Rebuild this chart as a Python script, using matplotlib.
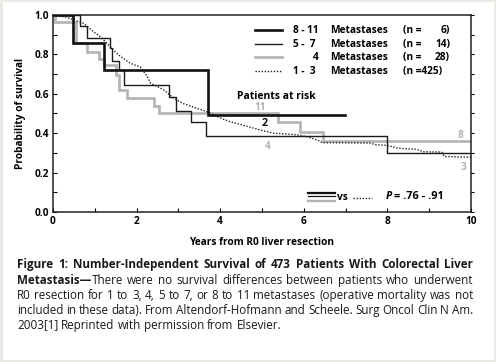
import matplotlib
matplotlib.use("Agg")
import numpy as np
import matplotlib.pyplot as plt
from matplotlib.figure import Figure
from matplotlib.backends.backend_agg import FigureCanvasAgg
from matplotlib.ticker import MultipleLocator, FixedLocator

# ---------------- data ----------------
heavy_t = [0, 0.47, 1.22, 3.72, 6.98]
heavy_s = [1.0, 0.86, 0.72, 0.49, 0.49]

thin_t = [0, 0.65, 0.81, 1.37, 1.41, 1.58, 1.69, 2.78, 2.94, 3.30, 3.67, 7.98, 10]
thin_s = [1.0, 0.946, 0.882, 0.834, 0.766, 0.72, 0.645, 0.585, 0.515, 0.455, 0.385, 0.30, 0.30]

gray_t = [0, 0.04, 0.55, 0.82, 1.11, 1.22, 1.51, 1.57, 1.77, 2.42, 2.53, 5.38, 5.92, 6.45, 10]
gray_s = [1.0, 0.964, 0.857, 0.81, 0.775, 0.745, 0.695, 0.62, 0.577, 0.537, 0.50, 0.455, 0.408, 0.36, 0.36]

dot_t = [0, 0.3, 0.5, 0.73, 0.97, 1.13, 1.29, 1.45, 1.57, 1.85, 2.09, 2.25, 2.33, 2.65,
         2.89, 3.12, 3.45, 3.69, 3.93, 4.24, 4.56, 4.96, 5.28, 5.84, 6.08, 6.32, 6.45,
         7.6, 7.7, 8.0, 8.25, 8.7, 8.85, 9.3, 9.36, 10]
dot_s = [1.0, 0.99, 0.975, 0.958, 0.915, 0.89, 0.856, 0.822, 0.797, 0.755, 0.735, 0.69,
         0.655, 0.62, 0.577, 0.55, 0.526, 0.509, 0.484, 0.458, 0.44, 0.416, 0.40, 0.392,
         0.382, 0.365, 0.352, 0.350, 0.342, 0.338, 0.324, 0.318, 0.306, 0.304, 0.282, 0.278]

legend_groups = ["8 - 11", "5 -  7", "4", "1 -  3"]
legend_n = ["6)", "14)", "28)", "425)"]
xticks = [0, 2, 4, 6, 8, 10]
yticks = [0.0, 0.2, 0.4, 0.6, 0.8, 1.0]

caption_lines = [
    [[("Figure", "bold")], [("1:", "bold")], [("Number-Independent", "bold")], [("Survival", "bold")],
     [("of", "bold")], [("473", "bold")], [("Patients", "bold")], [("With", "bold")],
     [("Colorectal", "bold")], [("Liver", "bold")]],
    [[("Metastasis\u2014", "bold"), ("There", "normal")]] +
    [[(w, "normal")] for w in "were no survival differences between patients who underwent".split()],
    [[(w, "normal")] for w in "R0 resection for 1 to 3, 4, 5 to 7, or 8 to 11 metastases (operative mortality was not".split()],
    [[(w, "normal")] for w in "included in these data). From Altendorf-Hofmann and Scheele. Surg Oncol Clin N Am.".split()],
    [[(w, "normal")] for w in "2003[1] Reprinted with permission from Elsevier.".split()],
]

# ---------------- figure ----------------
W, H = 496, 362
DPI = 100
FONT = "Open Sans"
FAM = [FONT, "DejaVu Sans"]
plt.rcParams["font.family"] = FAM
fig = plt.figure(figsize=(W / DPI, H / DPI), dpi=DPI)
fig.patch.set_facecolor("#ebe9e4")

# white panel
panel = plt.Rectangle((3 / W, 1 - 360 / H), 491 / W, 358 / H, transform=fig.transFigure,
                      facecolor="white", edgecolor="none", zorder=-10)
fig.patches.append(panel)

x0, x1, ytop, ybot = 53, 471, 15, 212
ax = fig.add_axes([x0 / W, 1 - ybot / H, (x1 - x0) / W, (ybot - ytop) / H])
ax.set_facecolor("none")
ax.set_xlim(0, 10)
ax.set_ylim(0, 1.0)

GRAY = "#b3b3b3"
ax.step(gray_t, gray_s, where="post", color=GRAY, lw=1.9, zorder=2, solid_joinstyle="miter")
ax.plot(dot_t, dot_s, color="#222222", lw=1.0, dashes=(1, 1.2), zorder=3)
ax.step(thin_t, thin_s, where="post", color="#1a1a1a", lw=1.0, zorder=4)
ax.step(heavy_t, heavy_s, where="post", color="#111111", lw=1.9, zorder=5, solid_joinstyle="miter")

for sp in ax.spines.values():
    sp.set_linewidth(1.1)
    sp.set_color("#222222")

ax.xaxis.set_major_locator(FixedLocator(xticks))
ax.xaxis.set_minor_locator(MultipleLocator(1))
ax.yaxis.set_major_locator(FixedLocator(yticks))
ax.yaxis.set_minor_locator(MultipleLocator(0.1))
ax.set_xticklabels([str(v) for v in xticks], fontweight="bold", fontsize=7.3)
ax.set_yticklabels([f"{v:.1f}" for v in yticks], fontweight="bold", fontsize=7.3)
ax.tick_params(axis="x", which="both", direction="in", length=3, width=0.8, pad=3)
ax.tick_params(axis="y", which="both", direction="in", length=3, width=0.8, pad=3,
               right=False, labelright=False)

# right side outward ticks
ax2 = ax.twinx()
ax2.set_ylim(0, 1)
ax2.yaxis.set_major_locator(MultipleLocator(0.1))
ax2.tick_params(axis="y", direction="out", length=2.5, width=0.8, labelright=False)
for sp in ax2.spines.values():
    sp.set_visible(False)

ax.set_xlabel("Years from R0 liver resection", fontweight="bold", fontsize=7.3, labelpad=7)
ax.set_ylabel("Probability of survival", fontweight="bold", fontsize=7.3, labelpad=6)


# ---- baseline calibration: Agg may shift a lone text by a pixel or two ----
# Each word is compared with the same word rendered after a fixed tall/deep prefix,
# whose vertical extent (and thus rounding) is the same for every word.
_cal_cache = {}
_PREF = "\u00c5|[(gj"


def _profile(s, fs, weight, style):
    Wc, Hc, B = 360, 60, 38
    f = Figure(figsize=(Wc / DPI, Hc / DPI), dpi=DPI)
    FigureCanvasAgg(f)
    f.patch.set_facecolor("white")
    f.text(5 / Wc, 1 - B / Hc, s, fontsize=fs, fontweight=weight, fontstyle=style,
           family=FAM, va="baseline", color="black")
    f.canvas.draw()
    a = np.asarray(f.canvas.buffer_rgba())[:, :, 0].astype(float)
    return (255.0 - a).sum(axis=1)


def baseline_shift(s, fs, weight="normal", style="normal"):
    key = (s, fs, weight, style)
    if key in _cal_cache:
        return _cal_cache[key]
    p_s = _profile(s, fs, weight, style)
    p_r = _profile(_PREF + s, fs, weight, style)
    pk = (_PREF, fs, weight, style)
    if pk not in _cal_cache:
        _cal_cache[pk] = _profile(_PREF, fs, weight, style)
    target = p_r - _cal_cache[pk]
    best = min(range(-3, 4), key=lambda sh: float(((np.roll(p_s, -sh) - target) ** 2).sum()))
    _cal_cache[key] = best
    return best


def ftext(x, yb, s, fontsize=7.3, fontweight="normal", fontstyle="normal", **kw):
    """Text with its baseline on pixel row yb (measured from the top)."""
    sh = baseline_shift(s, fontsize, fontweight, fontstyle)
    y = round(yb) - sh
    return fig.text(x / W, 1 - y / H, s, fontsize=fontsize, fontweight=fontweight,
                    fontstyle=fontstyle, va="baseline", **kw)


def fline(xa, xb, y, **kw):
    fig.add_artist(plt.Line2D([xa / W, xb / W], [1 - y / H, 1 - y / H],
                              transform=fig.transFigure, **kw))


# legend
rows_b = [33, 47, 60, 74]
styles = [dict(color="#111111", lw=1.9), dict(color="#1a1a1a", lw=1.0),
          dict(color=GRAY, lw=1.9), dict(color="#222222", lw=1.0, dashes=(1, 1.2))]
LF = 7.3
for i, yb in enumerate(rows_b):
    fline(255, 282, yb - 3, **styles[i])
    g = legend_groups[i]
    if g == "4":
        ftext(313, yb, g, fontweight="bold", fontsize=LF)
    else:
        ftext(293, yb, g, fontweight="bold", fontsize=LF)
    ftext(330, yb, "Metastases", fontweight="bold", fontsize=LF)
    if legend_n[i] == "425)":
        ftext(403, yb, "(n =425)", fontweight="bold", fontsize=LF)
    else:
        ftext(403, yb, "(n =", fontweight="bold", fontsize=LF)
        ftext(450, yb, legend_n[i], fontweight="bold", fontsize=LF, ha="right")

# patients at risk annotations
ftext(237, 99, "Patients at risk", fontweight="bold", fontsize=7.5)
ftext(260, 110, "11", fontweight="bold", fontsize=7.3, color=GRAY, ha="center")
ftext(264.5, 126, "2", fontweight="bold", fontsize=7.8, color="#111111", ha="center")
ftext(267.5, 149, "4", fontweight="bold", fontsize=7.3, color=GRAY, ha="center")
ftext(460, 138, "8", fontweight="bold", fontsize=7.3, color=GRAY, ha="center")
ftext(463.5, 170, "3", fontweight="bold", fontsize=7.3, color=GRAY, ha="center")

# bottom comparison legend
fline(308, 335, 192.8, color="#111111", lw=1.6)
fline(308, 335, 196.3, color="#1a1a1a", lw=0.9)
fline(308, 335, 201.0, color=GRAY, lw=1.7)
ftext(337, 200, "vs", fontweight="bold", fontsize=7.3)
fline(353, 372, 198, color="#222222", lw=1.0, dashes=(1, 1.2))
ftext(386, 199, "P", fontweight="bold", fontstyle="italic", fontsize=7.8)
ftext(394, 199, "= .76 - .91", fontweight="bold", fontsize=7.8)

# caption (justified)
fig.canvas.draw()
renderer = fig.canvas.get_renderer()
CAP_L, CAP_R = 17, 473
line_b = [268, 284, 299, 314, 329]


def measure(s, weight, fs):
    t = fig.text(0, 0, s, fontsize=fs, fontweight=weight)
    w = t.get_window_extent(renderer).width
    t.remove()
    return w


cap_fs = 8.5
space_w = measure("a b", "normal", cap_fs) - measure("ab", "normal", cap_fs)
for _ in range(20):
    ok = True
    for words in caption_lines[:-1]:
        tot = sum(measure(seg, wt, cap_fs) for word in words for seg, wt in word)
        if tot + space_w * 0.8 * (len(words) - 1) > CAP_R - CAP_L:
            ok = False
    if ok:
        break
    cap_fs -= 0.1
    space_w = measure("a b", "normal", cap_fs) - measure("ab", "normal", cap_fs)

for li, words in enumerate(caption_lines):
    widths = []
    for word in words:
        widths.append([measure(seg, wt, cap_fs) for seg, wt in word])
    total = sum(sum(w) for w in widths)
    n = len(words)
    if li < len(caption_lines) - 1 and n > 1:
        gap = (CAP_R - CAP_L - total) / (n - 1)
    else:
        gap = space_w
    xx = CAP_L
    for word, ws in zip(words, widths):
        for (seg, wt), w in zip(word, ws):
            ftext(xx, line_b[li], seg, fontsize=cap_fs, fontweight=wt, color="#1a1a1a")
            xx += w
        xx += gap

fig.savefig("out.png", dpi=DPI, facecolor=fig.get_facecolor())
